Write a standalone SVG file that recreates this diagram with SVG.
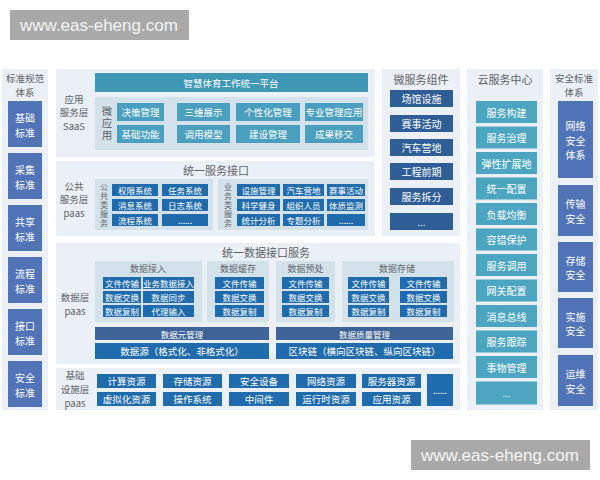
<svg xmlns="http://www.w3.org/2000/svg" width="600" height="480" viewBox="0 0 600 480">
<style>
text{font-family:"Noto Sans CJK SC","Noto Sans",sans-serif;text-anchor:middle;dominant-baseline:central}
.panel{fill:#eaf0f5}
.sub{fill:#d3e1ea}
.lbl{font-size:11px;fill:#5e6368}
.side{font-size:9.5px;fill:#5e6368}
.st{font-size:9px;fill:#62676c}
.vt{font-size:8px;fill:#62676c;writing-mode:vertical-rl;letter-spacing:1px}
.vt2{font-size:10.5px;fill:#5e6368;writing-mode:vertical-rl;letter-spacing:1.5px}
.bt{font-size:9.5px;fill:#ffffff}
.sm{font-size:8.5px;fill:#ffffff}
.bt2{font-size:10px;fill:#ffffff}
.teal{fill:#4a9fbf}
.plat{fill:#3f97b6}
.blue{fill:#1f6bab}
.navy{fill:#2f5d95}
.slate{fill:#3e6397}
.std{fill:#5173b8}
.cloud{fill:#4ca6c2}
.wm{fill:#a9a9a9}
.wmt{font-family:"Liberation Sans",Arial,sans-serif;font-size:17px;fill:#f4f4f4;text-anchor:start}
</style>
<rect width="600" height="480" fill="#ffffff"/>

<g id="watermark-top"><rect class="wm" x="10" y="10" width="179" height="30"/><text class="wmt" x="20" y="25">www.eas-eheng.com</text></g>

<g id="standards">
<rect class="panel" x="2" y="69" width="46" height="341"/>
<text class="side" x="25" y="78"><tspan x="25">标准规范</tspan><tspan x="25" dy="13.8">体系</tspan></text>
<g id="std-1"><rect class="std" x="8" y="101" width="34" height="46"/><text class="bt2" x="25" y="116.5"><tspan x="25">基础</tspan><tspan x="25" dy="15">标准</tspan></text></g>
<g id="std-2"><rect class="std" x="8" y="153" width="34" height="46"/><text class="bt2" x="25" y="168.5"><tspan x="25">采集</tspan><tspan x="25" dy="15">标准</tspan></text></g>
<g id="std-3"><rect class="std" x="8" y="205" width="34" height="46"/><text class="bt2" x="25" y="220.5"><tspan x="25">共享</tspan><tspan x="25" dy="15">标准</tspan></text></g>
<g id="std-4"><rect class="std" x="8" y="257" width="34" height="46"/><text class="bt2" x="25" y="272.5"><tspan x="25">流程</tspan><tspan x="25" dy="15">标准</tspan></text></g>
<g id="std-5"><rect class="std" x="8" y="309" width="34" height="46"/><text class="bt2" x="25" y="324.5"><tspan x="25">接口</tspan><tspan x="25" dy="15">标准</tspan></text></g>
<g id="std-6"><rect class="std" x="8" y="361" width="34" height="46"/><text class="bt2" x="25" y="376.5"><tspan x="25">安全</tspan><tspan x="25" dy="15">标准</tspan></text></g>
</g>

<g id="app-layer">
<rect class="panel" x="56" y="69" width="319" height="88"/>
<text class="side" x="74" y="98.5"><tspan x="74">应用</tspan><tspan x="74" dy="13.8">服务层</tspan><tspan x="74" dy="13.8">SaaS</tspan></text>
<g id="platform"><rect class="plat" x="95" y="73" width="273" height="19"/><text class="bt" x="231" y="82.5">智慧体育工作统一平台</text></g>
<rect class="sub" x="95" y="97" width="273" height="53"/>
<text class="vt2" x="107" y="123.5">微应用</text>
<g id="app-1"><rect class="teal" x="117" y="103" width="47" height="18"/><text class="bt" x="140.5" y="112">决策管理</text></g>
<g id="app-2"><rect class="teal" x="177" y="103" width="53" height="18"/><text class="bt" x="203.5" y="112">三维展示</text></g>
<g id="app-3"><rect class="teal" x="236" y="103" width="64" height="18"/><text class="bt" x="268" y="112">个性化管理</text></g>
<g id="app-4"><rect class="teal" x="305" y="103" width="58" height="18"/><text class="bt" x="334" y="112">专业管理应用</text></g>
<g id="app-5"><rect class="teal" x="117" y="125" width="47" height="18"/><text class="bt" x="140.5" y="134">基础功能</text></g>
<g id="app-6"><rect class="teal" x="177" y="125" width="53" height="18"/><text class="bt" x="203.5" y="134">调用模型</text></g>
<g id="app-7"><rect class="teal" x="236" y="125" width="64" height="18"/><text class="bt" x="268" y="134">建设管理</text></g>
<g id="app-8"><rect class="teal" x="305" y="125" width="58" height="18"/><text class="bt" x="334" y="134">成果移交</text></g>
</g>

<g id="public-layer">
<rect class="panel" x="56" y="161" width="319" height="75"/>
<text class="lbl" x="216" y="170">统一服务接口</text>
<text class="side" x="74" y="185.5"><tspan x="74">公共</tspan><tspan x="74" dy="13.8">服务层</tspan><tspan x="74" dy="13.8">paas</tspan></text>
<rect class="sub" x="95" y="179" width="118" height="51"/>
<text class="vt" x="104" y="205">公共类服务</text>
<g id="pub-1"><rect class="blue" x="112" y="184" width="46" height="12"/><text class="sm" x="135" y="190">权限系统</text></g>
<g id="pub-2"><rect class="blue" x="162" y="184" width="46" height="12"/><text class="sm" x="185" y="190">任务系统</text></g>
<g id="pub-3"><rect class="blue" x="112" y="199" width="46" height="12"/><text class="sm" x="135" y="205">消息系统</text></g>
<g id="pub-4"><rect class="blue" x="162" y="199" width="46" height="12"/><text class="sm" x="185" y="205">日志系统</text></g>
<g id="pub-5"><rect class="blue" x="112" y="214" width="46" height="12"/><text class="sm" x="135" y="220">流程系统</text></g>
<g id="pub-6"><rect class="blue" x="162" y="214" width="46" height="12"/><text class="sm" x="185" y="220">......</text></g>
<rect class="sub" x="218" y="179" width="150" height="51"/>
<text class="vt" x="228" y="205">业务类服务</text>
<g id="biz-1"><rect class="blue" x="237" y="184" width="43" height="12"/><text class="sm" x="258.5" y="190">设施管理</text></g>
<g id="biz-2"><rect class="blue" x="283" y="184" width="41" height="12"/><text class="sm" x="303.5" y="190">汽车营地</text></g>
<g id="biz-3"><rect class="blue" x="327" y="184" width="38" height="12"/><text class="sm" x="346" y="190">赛事活动</text></g>
<g id="biz-4"><rect class="blue" x="237" y="199" width="43" height="12"/><text class="sm" x="258.5" y="205">科学健身</text></g>
<g id="biz-5"><rect class="blue" x="283" y="199" width="41" height="12"/><text class="sm" x="303.5" y="205">组织人员</text></g>
<g id="biz-6"><rect class="blue" x="327" y="199" width="38" height="12"/><text class="sm" x="346" y="205">体质监测</text></g>
<g id="biz-7"><rect class="blue" x="237" y="214" width="43" height="12"/><text class="sm" x="258.5" y="220">统计分析</text></g>
<g id="biz-8"><rect class="blue" x="283" y="214" width="41" height="12"/><text class="sm" x="303.5" y="220">专题分析</text></g>
<g id="biz-9"><rect class="blue" x="327" y="214" width="38" height="12"/><text class="sm" x="346" y="220">......</text></g>
</g>

<g id="data-layer">
<rect class="panel" x="56" y="243" width="404" height="121"/>
<text class="lbl" x="266" y="252">统一数据接口服务</text>
<text class="side" x="75" y="297"><tspan x="75">数据层</tspan><tspan x="75" dy="13.8">paas</tspan></text>
<g id="data-access">
<rect class="sub" x="95" y="261" width="107" height="61"/>
<text class="st" x="148" y="268">数据接入</text>
<rect class="blue" x="103" y="277" width="38" height="12"/><text class="sm" x="122" y="283">文件传输</text>
<rect class="blue" x="143" y="277" width="51" height="12"/><text class="sm" x="168.5" y="283">业务数据接入</text>
<rect class="blue" x="103" y="291" width="38" height="12"/><text class="sm" x="122" y="297">数据交换</text>
<rect class="blue" x="143" y="291" width="51" height="12"/><text class="sm" x="168.5" y="297">数据同步</text>
<rect class="blue" x="103" y="305" width="38" height="12"/><text class="sm" x="122" y="311">数据复制</text>
<rect class="blue" x="143" y="305" width="51" height="12"/><text class="sm" x="168.5" y="311">代理输入</text>
</g>
<g id="data-cache">
<rect class="sub" x="207" y="261" width="62" height="61"/>
<text class="st" x="238" y="268">数据缓存</text>
<rect class="blue" x="215" y="277" width="49" height="12"/><text class="sm" x="239.5" y="283">文件传输</text>
<rect class="blue" x="215" y="291" width="49" height="12"/><text class="sm" x="239.5" y="297">数据交换</text>
<rect class="blue" x="215" y="305" width="49" height="12"/><text class="sm" x="239.5" y="311">数据复制</text>
</g>
<g id="data-preprocess">
<rect class="sub" x="276" y="261" width="59" height="61"/>
<text class="st" x="305.5" y="268">数据预处</text>
<rect class="blue" x="282" y="277" width="47" height="12"/><text class="sm" x="305.5" y="283">文件传输</text>
<rect class="blue" x="282" y="291" width="47" height="12"/><text class="sm" x="305.5" y="297">数据交换</text>
<rect class="blue" x="282" y="305" width="47" height="12"/><text class="sm" x="305.5" y="311">数据复制</text>
</g>
<g id="data-storage">
<rect class="sub" x="342" y="261" width="112" height="61"/>
<text class="st" x="397" y="268">数据存储</text>
<rect class="blue" x="348" y="277" width="41" height="12"/><text class="sm" x="368.5" y="283">文件传输</text>
<rect class="blue" x="400" y="277" width="47" height="12"/><text class="sm" x="423.5" y="283">文件传输</text>
<rect class="blue" x="348" y="291" width="41" height="12"/><text class="sm" x="368.5" y="297">数据交换</text>
<rect class="blue" x="400" y="291" width="47" height="12"/><text class="sm" x="423.5" y="297">数据交换</text>
<rect class="blue" x="348" y="305" width="41" height="12"/><text class="sm" x="368.5" y="311">数据复制</text>
<rect class="blue" x="400" y="305" width="47" height="12"/><text class="sm" x="423.5" y="311">数据复制</text>
</g>
<g id="meta-mgmt"><rect class="slate" x="95" y="327" width="174" height="13"/><text class="sm" x="182" y="333.5">数据元管理</text></g>
<g id="quality-mgmt"><rect class="slate" x="276" y="327" width="177" height="13"/><text class="sm" x="364.5" y="333.5">数据质量管理</text></g>
<g id="data-source"><rect class="blue" x="95" y="343" width="174" height="16"/><text class="bt" x="182" y="351">数据源（格式化、非格式化）</text></g>
<g id="blockchain"><rect class="blue" x="276" y="343" width="177" height="16"/><text class="bt" x="364.5" y="351">区块链（横向区块链、纵向区块链）</text></g>
</g>

<g id="infra-layer">
<rect class="panel" x="56" y="368" width="404" height="42"/>
<text class="side" x="75" y="375.2"><tspan x="75">基础</tspan><tspan x="75" dy="13.8">设施层</tspan><tspan x="75" dy="13.8">paas</tspan></text>
<g id="inf-1"><rect class="blue" x="97" y="374" width="59" height="14"/><text class="bt" x="126.5" y="381">计算资源</text></g>
<g id="inf-2"><rect class="blue" x="163" y="374" width="59" height="14"/><text class="bt" x="192.5" y="381">存储资源</text></g>
<g id="inf-3"><rect class="blue" x="229" y="374" width="60" height="14"/><text class="bt" x="259" y="381">安全设备</text></g>
<g id="inf-4"><rect class="blue" x="296" y="374" width="60" height="14"/><text class="bt" x="326" y="381">网络资源</text></g>
<g id="inf-5"><rect class="blue" x="362" y="374" width="59" height="14"/><text class="bt" x="391.5" y="381">服务器资源</text></g>
<g id="inf-6"><rect class="blue" x="97" y="392" width="59" height="14"/><text class="bt" x="126.5" y="399">虚拟化资源</text></g>
<g id="inf-7"><rect class="blue" x="163" y="392" width="59" height="14"/><text class="bt" x="192.5" y="399">操作系统</text></g>
<g id="inf-8"><rect class="blue" x="229" y="392" width="60" height="14"/><text class="bt" x="259" y="399">中间件</text></g>
<g id="inf-9"><rect class="blue" x="296" y="392" width="60" height="14"/><text class="bt" x="326" y="399">运行时资源</text></g>
<g id="inf-10"><rect class="blue" x="362" y="392" width="59" height="14"/><text class="bt" x="391.5" y="399">应用资源</text></g>
<g id="inf-11"><rect class="blue" x="427" y="374" width="26" height="32"/><text class="sm" x="440" y="390">......</text></g>
</g>

<g id="micro-services">
<rect class="panel" x="382" y="69" width="78" height="167"/>
<text class="lbl" x="421" y="79">微服务组件</text>
<g id="ms-1"><rect class="navy" x="390" y="90" width="63" height="17"/><text class="bt2" x="421.5" y="98.5">场馆设施</text></g>
<g id="ms-2"><rect class="navy" x="390" y="115" width="63" height="17"/><text class="bt2" x="421.5" y="123.5">赛事活动</text></g>
<g id="ms-3"><rect class="navy" x="390" y="139" width="63" height="17"/><text class="bt2" x="421.5" y="147.5">汽车营地</text></g>
<g id="ms-4"><rect class="navy" x="390" y="163" width="63" height="17"/><text class="bt2" x="421.5" y="171.5">工程前期</text></g>
<g id="ms-5"><rect class="navy" x="390" y="188" width="63" height="17"/><text class="bt2" x="421.5" y="196.5">服务拆分</text></g>
<g id="ms-6"><rect class="navy" x="390" y="213" width="63" height="17"/><text class="bt" x="421.5" y="221.5">...</text></g>
</g>

<g id="cloud-center">
<rect class="panel" x="467" y="69" width="76" height="341"/>
<text class="lbl" x="505" y="79">云服务中心</text>
<g id="cs-1"><rect class="cloud" x="476" y="101" width="61" height="22"/><text class="bt2" x="506.5" y="112">服务构建</text></g>
<g id="cs-2"><rect class="cloud" x="476" y="126.5" width="61" height="22"/><text class="bt2" x="506.5" y="137.5">服务治理</text></g>
<g id="cs-3"><rect class="cloud" x="476" y="152" width="61" height="22"/><text class="bt2" x="506.5" y="163">弹性扩展地</text></g>
<g id="cs-4"><rect class="cloud" x="476" y="177.5" width="61" height="22"/><text class="bt2" x="506.5" y="188.5">统一配置</text></g>
<g id="cs-5"><rect class="cloud" x="476" y="203" width="61" height="22"/><text class="bt2" x="506.5" y="214">负载均衡</text></g>
<g id="cs-6"><rect class="cloud" x="476" y="228.5" width="61" height="22"/><text class="bt2" x="506.5" y="239.5">容错保护</text></g>
<g id="cs-7"><rect class="cloud" x="476" y="254" width="61" height="22"/><text class="bt2" x="506.5" y="265">服务调用</text></g>
<g id="cs-8"><rect class="cloud" x="476" y="279.5" width="61" height="22"/><text class="bt2" x="506.5" y="290.5">网关配置</text></g>
<g id="cs-9"><rect class="cloud" x="476" y="305" width="61" height="22"/><text class="bt2" x="506.5" y="316">消息总线</text></g>
<g id="cs-10"><rect class="cloud" x="476" y="330.5" width="61" height="22"/><text class="bt2" x="506.5" y="341.5">服务跟踪</text></g>
<g id="cs-11"><rect class="cloud" x="476" y="356" width="61" height="22"/><text class="bt2" x="506.5" y="367">事物管理</text></g>
<g id="cs-12"><rect class="cloud" x="476" y="381.5" width="61" height="23"/><text class="bt" x="506.5" y="393">...</text></g>
</g>

<g id="security">
<rect class="panel" x="550" y="69" width="48" height="341"/>
<text class="side" x="574" y="78"><tspan x="574">安全标准</tspan><tspan x="574" dy="13.8">体系</tspan></text>
<g id="sec-1"><rect class="std" x="558" y="101" width="35" height="77"/><text class="bt2" x="575.5" y="125"><tspan x="575.5">网络</tspan><tspan x="575.5" dy="14.5">安全</tspan><tspan x="575.5" dy="14.5">体系</tspan></text></g>
<g id="sec-2"><rect class="std" x="558" y="185" width="35" height="51"/><text class="bt2" x="575.5" y="203"><tspan x="575.5">传输</tspan><tspan x="575.5" dy="14.5">安全</tspan></text></g>
<g id="sec-3"><rect class="std" x="558" y="242" width="35" height="50"/><text class="bt2" x="575.5" y="259.5"><tspan x="575.5">存储</tspan><tspan x="575.5" dy="14.5">安全</tspan></text></g>
<g id="sec-4"><rect class="std" x="558" y="298" width="35" height="50"/><text class="bt2" x="575.5" y="315.5"><tspan x="575.5">实施</tspan><tspan x="575.5" dy="14.5">安全</tspan></text></g>
<g id="sec-5"><rect class="std" x="558" y="355" width="35" height="51"/><text class="bt2" x="575.5" y="373"><tspan x="575.5">运维</tspan><tspan x="575.5" dy="14.5">安全</tspan></text></g>
</g>

<g id="watermark-bottom"><rect class="wm" x="411" y="440" width="179" height="30"/><text class="wmt" x="421" y="455">www.eas-eheng.com</text></g>
</svg>
